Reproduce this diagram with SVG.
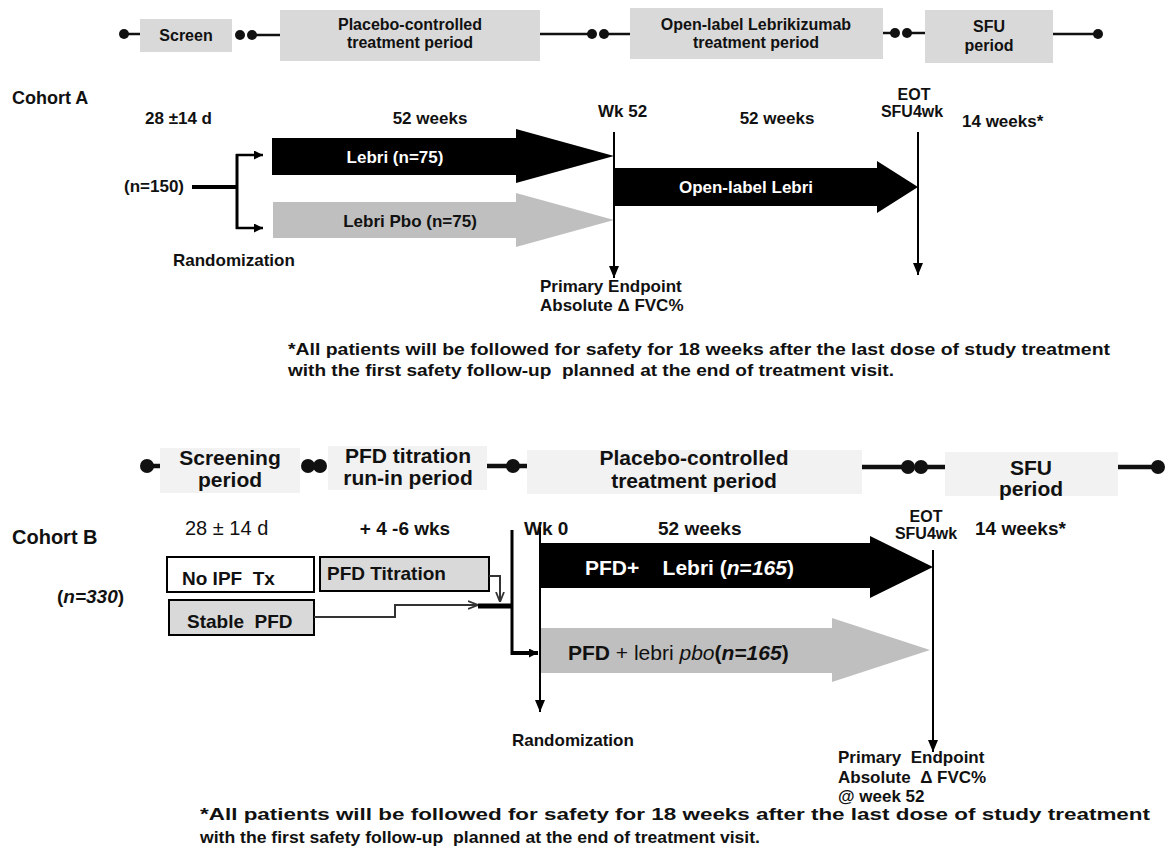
<svg xmlns="http://www.w3.org/2000/svg" width="1170" height="850" viewBox="0 0 1170 850">
<defs>
<style>
text{font-family:"Liberation Sans",Arial,sans-serif;fill:#111}
.pa{fill:#d9d9d9}
.pb{fill:#f2f2f2}
.ta{font-size:16px;font-weight:bold;text-anchor:middle}
.tb{font-size:21px;font-weight:bold;text-anchor:middle}
.la{font-size:17px;font-weight:bold}
.lb{font-size:19px;font-weight:bold}
.lnA{stroke:#111;stroke-width:2.5;fill:none}
.lnB{stroke:#111;stroke-width:4.5;fill:none}
.dot{fill:#111}
.vl{stroke:#000;stroke-width:2;fill:none}
.blk{fill:#000}
.gry{fill:#bfbfbf}
.wt{fill:#fff}
.bx{stroke:#000;stroke-width:2}
.cn{stroke:#333;stroke-width:2;fill:none}
</style>
<marker id="ah" viewBox="0 0 12 10" refX="12" refY="5" markerWidth="12" markerHeight="10" markerUnits="userSpaceOnUse" orient="auto"><path d="M0,0 L12,5 L0,10 z" fill="#000"/></marker>
<marker id="ahs" viewBox="0 0 10 10" refX="10" refY="5" markerWidth="10" markerHeight="9" markerUnits="userSpaceOnUse" orient="auto"><path d="M0,0 L10,5 L0,10 z" fill="#000"/></marker>
<marker id="ao" viewBox="0 0 10 10" refX="10" refY="5" markerWidth="10" markerHeight="10" markerUnits="userSpaceOnUse" orient="auto"><path d="M0,1 L10,5 L0,9" fill="none" stroke="#333" stroke-width="1.8"/></marker>
</defs>
<rect width="1170" height="850" fill="#fff"/>

<!-- Cohort A timeline -->
<g id="a-timeline-links">
<line class="lnA" x1="124" y1="34" x2="140" y2="34"/>
<line class="lnA" x1="252" y1="35" x2="280" y2="35"/>
<line class="lnA" x1="540" y1="34" x2="592" y2="34"/>
<line class="lnA" x1="604" y1="34" x2="630" y2="34"/>
<line class="lnA" x1="883" y1="33" x2="895" y2="33"/>
<line class="lnA" x1="907" y1="33" x2="925" y2="33"/>
<line class="lnA" x1="1053" y1="34" x2="1098" y2="34"/>
<circle class="dot" cx="124" cy="34" r="5"/>
<circle class="dot" cx="240" cy="35" r="5"/>
<circle class="dot" cx="252" cy="35" r="5"/>
<circle class="dot" cx="592" cy="34" r="5"/>
<circle class="dot" cx="604" cy="34" r="5"/>
<circle class="dot" cx="895" cy="33" r="5"/>
<circle class="dot" cx="907" cy="33" r="5"/>
<circle class="dot" cx="1098" cy="34" r="5"/>
</g>
<g id="a-screen"><rect class="pa" x="140" y="19" width="92" height="33"/><text class="ta" x="186" y="41">Screen</text></g>
<g id="a-placebo"><rect class="pa" x="280" y="10" width="260" height="51"/><text class="ta" x="410" y="30">Placebo-controlled</text><text class="ta" x="410" y="48">treatment period</text></g>
<g id="a-openlabel"><rect class="pa" x="630" y="8" width="253" height="51"/><text class="ta" x="756" y="30">Open-label Lebrikizumab</text><text class="ta" x="756" y="48">treatment period</text></g>
<g id="a-sfu"><rect class="pa" x="925" y="10" width="128" height="53"/><text class="ta" x="989" y="32">SFU</text><text class="ta" x="989" y="51">period</text></g>

<!-- Cohort A labels -->
<g id="a-labels">
<text class="la" x="12" y="104" style="font-size:18px">Cohort A</text>
<text class="la" x="145" y="124">28 ±14 d</text>
<text class="la" x="430" y="124" text-anchor="middle">52 weeks</text>
<text class="la" x="598" y="117">Wk 52</text>
<text class="la" x="777" y="124" text-anchor="middle">52 weeks</text>
<text class="la" x="914" y="100" text-anchor="middle" style="font-size:16px">EOT</text>
<text class="la" x="912" y="117" text-anchor="middle" style="font-size:16px">SFU4wk</text>
<text class="la" x="962" y="127">14 weeks*</text>
<text class="la" x="124" y="192">(n=150)</text>
<text class="la" x="173" y="266">Randomization</text>
<text class="la" x="540" y="292">Primary Endpoint</text>
<text class="la" x="540" y="311">Absolute Δ FVC%</text>
<text class="la" x="288" y="355" style="font-size:16px" textLength="822" lengthAdjust="spacingAndGlyphs">*All patients will be followed for safety for 18 weeks after the last dose of study treatment</text>
<text class="la" x="288" y="376" style="font-size:16px" xml:space="preserve" textLength="606" lengthAdjust="spacingAndGlyphs">with the first safety follow-up  planned at the end of treatment visit.</text>
</g>

<!-- Cohort A arms -->
<g id="a-lebri"><polygon class="blk" points="272,138 516,138 516,129 614,156 516,183 516,175 272,175"/><text class="la wt" x="395" y="163" text-anchor="middle">Lebri (n=75)</text></g>
<g id="a-pbo"><polygon class="gry" points="273,202 516,202 516,193 614,220 516,247 516,238 273,238"/><text class="la" x="410" y="227" text-anchor="middle">Lebri Pbo (n=75)</text></g>
<g id="a-open"><polygon class="blk" points="614,168 877,168 877,161 918,187 877,213 877,206 614,206"/><text class="la wt" x="746" y="193" text-anchor="middle">Open-label Lebri</text></g>

<g id="a-connectors">
<line x1="192" y1="187" x2="237" y2="187" stroke="#000" stroke-width="4"/>
<line x1="237" y1="154" x2="237" y2="229" stroke="#000" stroke-width="3"/>
<line x1="236" y1="155" x2="263" y2="155" stroke="#000" stroke-width="2.5" marker-end="url(#ahs)"/>
<line x1="236" y1="228" x2="263" y2="228" stroke="#000" stroke-width="2.5" marker-end="url(#ahs)"/>
<line class="vl" x1="614" y1="132" x2="614" y2="278" marker-end="url(#ah)"/>
<line class="vl" x1="918" y1="132" x2="918" y2="275" marker-end="url(#ah)"/>
</g>

<!-- Cohort B timeline -->
<g id="b-timeline-links">
<line class="lnB" x1="147" y1="466" x2="162" y2="466"/>
<line class="lnB" x1="487" y1="466" x2="527" y2="466"/>
<line class="lnB" x1="862" y1="467" x2="908" y2="467"/>
<line class="lnB" x1="921" y1="467" x2="945" y2="467"/>
<line class="lnB" x1="1118" y1="467" x2="1158" y2="467"/>
<circle class="dot" cx="147" cy="466" r="7"/>
<circle class="dot" cx="308" cy="466" r="7"/>
<circle class="dot" cx="320" cy="466" r="7"/>
<circle class="dot" cx="513" cy="466" r="7"/>
<circle class="dot" cx="908" cy="467" r="7"/>
<circle class="dot" cx="921" cy="467" r="7"/>
<circle class="dot" cx="1158" cy="467" r="7"/>
</g>
<g id="b-screening"><rect class="pb" x="160" y="448" width="140" height="45"/><text class="tb" x="230" y="465">Screening</text><text class="tb" x="230" y="487">period</text></g>
<g id="b-titration"><rect class="pb" x="328" y="446" width="159" height="44"/><text class="tb" x="408" y="463">PFD titration</text><text class="tb" x="408" y="485">run-in period</text></g>
<g id="b-placebo"><rect class="pb" x="527" y="450" width="335" height="44"/><text class="tb" x="694" y="465">Placebo-controlled</text><text class="tb" x="694" y="488">treatment period</text></g>
<g id="b-sfu"><rect class="pb" x="945" y="452" width="173" height="44"/><text class="tb" x="1031" y="475">SFU</text><text class="tb" x="1031" y="496">period</text></g>

<!-- Cohort B labels -->
<g id="b-labels">
<text class="lb" x="12" y="544" style="font-size:20px">Cohort B</text>
<text x="185" y="535" style="font-size:20px">28 ± 14 d</text>
<text class="lb" x="405" y="535" text-anchor="middle">+ 4 -6 wks</text>
<text class="lb" x="524" y="535">Wk 0</text>
<text class="lb" x="658" y="535">52 weeks</text>
<text class="lb" x="926" y="522" text-anchor="middle" style="font-size:16px">EOT</text>
<text class="lb" x="926" y="539" text-anchor="middle" style="font-size:16px">SFU4wk</text>
<text class="lb" x="975" y="535">14 weeks*</text>
<text class="lb" x="57" y="603">(<tspan style="font-style:italic">n=330</tspan>)</text>
<text class="lb" x="512" y="746" style="font-size:17px">Randomization</text>
<text class="lb" x="838" y="763" xml:space="preserve" style="font-size:17px">Primary  Endpoint</text>
<text class="lb" x="838" y="783" xml:space="preserve" style="font-size:17px">Absolute  Δ FVC%</text>
<text class="lb" x="838" y="802" style="font-size:17px">@ week 52</text>
<text class="lb" x="200" y="820" style="font-size:17px" textLength="950" lengthAdjust="spacingAndGlyphs">*All patients will be followed for safety for 18 weeks after the last dose of study treatment</text>
<text class="lb" x="200" y="843" style="font-size:17px" xml:space="preserve" textLength="560" lengthAdjust="spacingAndGlyphs">with the first safety follow-up  planned at the end of treatment visit.</text>
</g>

<g id="b-noipf"><rect x="167" y="557" width="147" height="35" fill="#fff" class="bx"/><text class="lb" x="182" y="585" xml:space="preserve">No IPF  Tx</text></g>
<g id="b-pfdtit"><rect x="320" y="557" width="169" height="34" class="pa bx"/><text class="lb" x="327" y="580">PFD Titration</text></g>
<g id="b-stable"><rect x="169" y="600" width="145" height="35" class="pa bx"/><text class="lb" x="187" y="628" xml:space="preserve">Stable  PFD</text></g>

<!-- Cohort B arms -->
<g id="b-lebri"><polygon class="blk" points="540,543 870,543 870,536 933,567 870,598 870,588 540,588"/><text class="wt" x="585" y="575" style="font-size:21px;font-weight:bold" xml:space="preserve"><tspan class="wt">PFD+    Lebri (</tspan><tspan class="wt" style="font-style:italic">n</tspan><tspan class="wt">=</tspan><tspan class="wt" style="font-style:italic">165</tspan><tspan class="wt">)</tspan></text></g>
<g id="b-pbo"><polygon class="gry" points="540,628 832,628 832,618 930,650 832,682 832,673 540,673"/><text x="568" y="660" style="font-size:21px" xml:space="preserve"><tspan font-weight="bold">PFD</tspan> + lebri <tspan font-style="italic">pbo</tspan><tspan font-weight="bold">(</tspan><tspan font-weight="bold" font-style="italic">n=165</tspan><tspan font-weight="bold">)</tspan></text></g>

<g id="b-connectors">
<polyline class="cn" points="314,617 395,617 395,605 478,605" marker-end="url(#ao)"/>
<line x1="478" y1="606" x2="513" y2="606" stroke="#000" stroke-width="5"/>
<polyline class="cn" points="489,576 500,576 500,602" marker-end="url(#ao)"/>
<line x1="512" y1="530" x2="512" y2="655" stroke="#000" stroke-width="3"/>
<line x1="511" y1="653" x2="538" y2="653" stroke="#000" stroke-width="4" marker-end="url(#ahs)"/>
<line class="vl" x1="540" y1="527" x2="540" y2="712" marker-end="url(#ah)"/>
<line class="vl" x1="933" y1="550" x2="933" y2="752" marker-end="url(#ah)"/>
</g>
</svg>
